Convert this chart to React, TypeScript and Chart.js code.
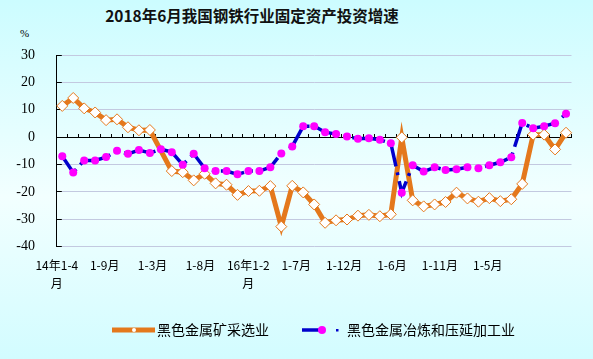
import React, { useEffect, useRef } from 'react';
import { Chart, registerables } from 'chart.js';

Chart.register(...registerables);

const categories = [
  '14年1-4月', '1-5月', '1-6月', '1-7月', '1-8月', '1-9月', '1-10月', '1-11月', '1-12月',
  '15年1-2月', '1-3月', '1-4月', '1-5月', '1-6月', '1-7月', '1-8月', '1-9月', '1-10月', '1-11月', '1-12月',
  '16年1-2月', '1-3月', '1-4月', '1-5月', '1-6月', '1-7月', '1-8月', '1-9月', '1-10月', '1-11月', '1-12月',
  '17年1-2月', '1-3月', '1-4月', '1-5月', '1-6月', '1-7月', '1-8月', '1-9月', '1-10月', '1-11月', '1-12月',
  '18年1-2月', '1-3月', '1-4月', '1-5月', '1-6月',
];

const xTickLabels = ['14年1-4\n月', '1-9月', '1-3月', '1-8月', '16年1-2\n月', '1-7月', '1-12月', '1-6月', '1-11月', '1-5月'];

const yTicks = [30, 20, 10, 0, -10, -20, -30, -40];

const miningLabel = '黑色金属矿采选业';
const miningValues = [
  11.4, 14.3, 10.5, 9.0, 6.2, 6.5, 3.6, 2.5, 2.6, null,
  -12.4, -12.8, -15.8, -13.4, -16.9, -17.4, -21.1, -19.7, -19.6, -17.9,
  -32.7, -17.8, -20.2, -24.6, -31.3, -30.4, -30.1, -28.7, -28.4, -28.9,
  -28.2, -0.1, -23.1, -25.3, -24.6, -23.7, -20.3, -22.4, -23.6, -22.3,
  -23.4, -22.7, -17.1, 0.9, 0.9, -4.5, 1.6,
];

const smeltingLabel = '黑色金属冶炼和压延加工业';
const smeltingValues = [
  -7.0, -12.9, -8.5, -8.5, -7.3, -5.0, -6.1, -4.7, -5.8, -4.4,
  -5.5, -10.1, -6.1, -11.4, -12.4, -12.4, -13.6, -12.4, -12.4, -11.0,
  -6.0, -3.4, 4.0, 4.0, 1.8, 1.1, 0.2, -0.6, -0.4, -1.0,
  -2.2, -20.3, -10.3, -12.6, -11.0, -12.0, -11.7, -11.0, -11.4, -10.3,
  -9.2, -7.4, 5.2, 3.2, 4.0, 5.1, 8.5,
];

const ORANGE = '#E4781C';
const BLUE = '#0000CC';
const MAGENTA = '#FF00FF';
const GRID = '#C3C9E0';
const CJK = '"Noto Sans CJK SC", "Noto Sans", sans-serif';

function makeIcon(kind: 'mining' | 'smelting') {
  const c = document.createElement('canvas');
  c.width = 81;
  c.height = 14;
  const g = c.getContext('2d')!;
  const o = 38;
  if (kind === 'mining') {
    g.strokeStyle = ORANGE;
    g.lineWidth = 5;
    g.beginPath();
    g.moveTo(o, 7);
    g.lineTo(o + 43, 7);
    g.stroke();
    g.fillStyle = '#fff';
    g.beginPath();
    g.arc(o + 22, 7, 2, 0, Math.PI * 2);
    g.fill();
  } else {
    g.strokeStyle = BLUE;
    g.lineWidth = 3.5;
    g.beginPath();
    g.moveTo(o, 7);
    g.lineTo(o + 22, 7);
    g.stroke();
    g.fillStyle = MAGENTA;
    g.beginPath();
    g.arc(o + 20, 7, 4, 0, Math.PI * 2);
    g.fill();
    g.fillStyle = BLUE;
    g.fillRect(o + 34, 6, 2.5, 2.5);
  }
  return c;
}

export default function App() {
  const ref = useRef<HTMLCanvasElement | null>(null);

  useEffect(() => {
    if (!ref.current) return;
    const icons = [makeIcon('mining'), makeIcon('smelting')];
    const chart = new Chart(ref.current, {
      type: 'line',
      data: {
        labels: categories,
        datasets: [
          {
            label: miningLabel,
            data: miningValues,
            xAxisID: 'x',
            yAxisID: 'y',
            borderColor: ORANGE,
            borderWidth: 5,
            pointStyle: 'rectRot',
            pointRadius: 5.5,
            pointBackgroundColor: '#FFFFFF',
            pointBorderColor: ORANGE,
            pointBorderWidth: 1,
            spanGaps: true,
            tension: 0,
            order: 1,
          },
          {
            label: smeltingLabel,
            data: smeltingValues,
            xAxisID: 'x',
            yAxisID: 'y',
            borderColor: BLUE,
            borderWidth: 3.5,
            borderDash: [24, 6, 3, 6],
            pointStyle: 'circle',
            pointRadius: 4,
            pointBackgroundColor: MAGENTA,
            pointBorderColor: MAGENTA,
            pointBorderWidth: 0,
            tension: 0,
            order: 0,
          },
        ],
      },
      options: {
        responsive: false,
        animation: false,
        layout: { padding: { top: 55, left: 8.5, right: 7.5, bottom: 12 } },
        plugins: {
          title: { display: false },
          tooltip: { enabled: false },
          legend: {
            display: true,
            position: 'bottom',
            onClick: () => {},
            labels: {
              usePointStyle: true,
              pointStyleWidth: 71,
              padding: 0,
              color: '#000',
              font: { family: CJK, size: 14 },
              generateLabels: () => [
                { text: miningLabel, pointStyle: icons[0], datasetIndex: 0, hidden: false, lineWidth: 0, fillStyle: ORANGE, strokeStyle: ORANGE, fontColor: '#000' } as any,
                { text: smeltingLabel, pointStyle: icons[1], datasetIndex: 1, hidden: false, lineWidth: 0, fillStyle: BLUE, strokeStyle: BLUE, fontColor: '#000' } as any,
              ],
            },
          },
        },
        scales: {
          x: {
            type: 'category',
            offset: true,
            position: { y: 0 } as any,
            ticks: { display: false },
            grid: {
              display: true,
              drawOnChartArea: false,
              drawTicks: true,
              tickLength: -4,
              offset: true,
              color: '#000',
              tickColor: '#000',
            },
            border: { display: true, color: '#000', width: 1 },
          },
          xl: {
            type: 'linear',
            position: 'bottom',
            min: 0,
            max: 10.75,
            afterFit: (s: any) => { s.height = 76.4; },
            grid: { display: false },
            border: { display: false },
            ticks: {
              stepSize: 1,
              maxTicksLimit: 30,
              autoSkip: false,
              maxRotation: 0,
              minRotation: 0,
              padding: 2,
              color: '#000',
              font: { family: CJK, size: 12, lineHeight: 1.5 },
              callback: (v: any) => {
                const i = Number(v);
                if (Number.isInteger(i) && i >= 0 && i < xTickLabels.length) return xTickLabels[i].split('\n');
                return '';
              },
            },
          },
          y: {
            type: 'linear',
            position: 'left',
            min: yTicks[yTicks.length - 1],
            max: yTicks[0],
            afterFit: (s: any) => { s.width = 48.3; },
            afterBuildTicks: (s: any) => { s.ticks = yTicks.slice().reverse().map((v) => ({ value: v })); },
            ticks: {
              padding: 26.8,
              color: '#000',
              font: { family: '"Liberation Serif", serif', size: 14 },
            },
            grid: {
              color: (ctx: any) => (ctx.tick && ctx.tick.value === 0 ? '#000' : GRID),
              tickColor: '#000',
              tickLength: -5,
              lineWidth: 1,
            },
            border: { display: true, color: '#000', width: 1 },
          },
          yr: {
            type: 'linear',
            position: 'right',
            afterFit: (s: any) => { s.width = 14; },
            ticks: { display: false },
            grid: { display: false },
            border: { display: false },
          },
        },
      },
    });
    return () => chart.destroy();
  }, []);

  return (
    <div
      style={{
        position: 'fixed',
        left: 0,
        top: 0,
        width: 593,
        height: 359,
        background: 'linear-gradient(180deg, #CCFCFF 0%, #F2FFFF 55%, #D2FCFF 100%)',
        overflow: 'hidden',
      }}
    >
      <div
        style={{
          position: 'absolute',
          left: 0,
          top: 5,
          width: 504,
          textAlign: 'center',
          fontFamily: CJK,
          fontWeight: 700,
          fontSize: 15.5,
          lineHeight: '20px',
          color: '#111',
        }}
      >
        2018年6月我国钢铁行业固定资产投资增速
      </div>
      <div
        style={{
          position: 'absolute',
          left: 20,
          top: 26,
          fontFamily: '"Liberation Serif", serif',
          fontSize: 11,
          lineHeight: '14px',
          color: '#000',
        }}
      >
        %
      </div>
      <canvas ref={ref} width={593} height={359} style={{ position: 'absolute', left: 0, top: 0, width: 593, height: 359 }} />
    </div>
  );
}
